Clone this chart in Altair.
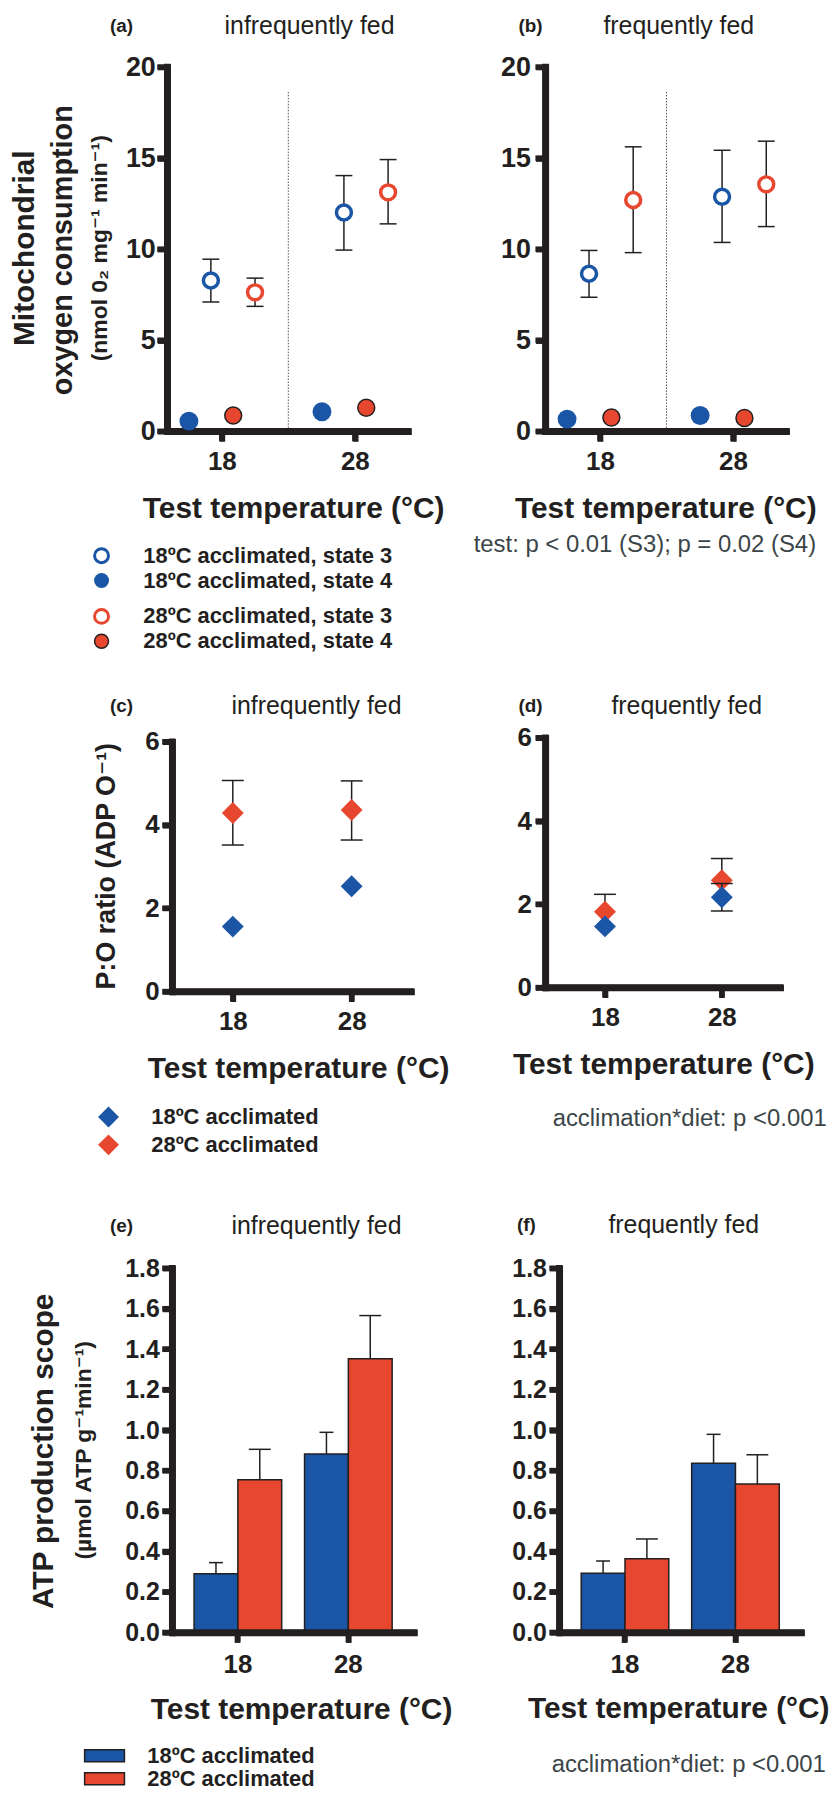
import altair as alt
import pandas as pd

BLUE = "#1b55a5"
RED = "#e8472f"
INK = "#231f20"
GREY = "#3b4548"
FONT = "Liberation Sans, Arial, Helvetica, DejaVu Sans, sans-serif"

# ---------------- data ----------------
temps = [18, 28]
divider_temp = [23]

# (a) infrequently fed – mitochondrial O2 consumption
a_s3_18 = [8.28, 12.01]
a_s3_18_lo = [7.10, 9.95]
a_s3_18_hi = [9.45, 14.04]
a_s3_28 = [7.63, 13.12]
a_s3_28_lo = [6.86, 11.39]
a_s3_28_hi = [8.41, 14.92]
a_s4_18 = [0.56, 1.07]
a_s4_28 = [0.87, 1.29]

# (b) frequently fed
b_s3_18 = [8.65, 12.88]
b_s3_18_lo = [7.36, 10.37]
b_s3_18_hi = [9.93, 15.43]
b_s3_28 = [12.70, 13.56]
b_s3_28_lo = [9.81, 11.24]
b_s3_28_hi = [15.62, 15.93]
b_s4_18 = [0.67, 0.87]
b_s4_28 = [0.76, 0.73]

# (c) P:O ratio, infrequently fed
c_18 = [1.56, 2.53]
c_18_lo = [None, None]
c_18_hi = [None, None]
c_28 = [4.29, 4.36]
c_28_lo = [3.52, 3.64]
c_28_hi = [5.07, 5.06]

# (d) P:O ratio, frequently fed
d_18 = [1.47, 2.17]
d_18_lo = [None, 1.84]
d_18_hi = [None, 2.50]
d_28 = [1.82, 2.58]
d_28_lo = [None, None]
d_28_hi = [2.24, 3.10]

# (e) ATP production scope, infrequently fed
e_18 = [0.290, 0.882]
e_18_hi = [0.345, 0.989]
e_28 = [0.754, 1.353]
e_28_hi = [0.905, 1.566]

# (f) ATP production scope, frequently fed
f_18 = [0.292, 0.836]
f_18_hi = [0.353, 0.979]
f_28 = [0.364, 0.733]
f_28_hi = [0.462, 0.878]

o2_ticks = [0, 5, 10, 15, 20]
po_ticks = [0, 2, 4, 6]
atp_ticks = [0.0, 0.2, 0.4, 0.6, 0.8, 1.0, 1.2, 1.4, 1.6, 1.8]
temp_labels = ["18", "28"]

SERIES_SHIFT = {"s4_18": -2.47, "s3_18": -0.82, "s4_28": 0.86, "s3_28": 2.50}

XT = "Test temperature (°C)"
AXW = 6.5     # axis line width
TKW = 5.5     # tick width
TKS = 10      # tick length


# ---------------- helpers ----------------
def one():
    return pd.DataFrame({"k": [0]})


def text(s, x, y, size, weight="normal", color=INK, align="center", angle=0):
    kw = dict(text=s, font=FONT, fontSize=size, fontWeight=weight, color=color,
              align=align, baseline="middle")
    if angle:
        kw["angle"] = angle
    return alt.Chart(one()).mark_text(**kw).encode(x=alt.value(x), y=alt.value(y))


def x_axis(values=None, fmt=None, pad=7, size=26, offset=0):
    kw = dict(title=None, grid=False, domain=True, domainColor=INK, domainWidth=AXW,
              domainCap="square", ticks=True, tickColor=INK, tickWidth=TKW, tickSize=TKS,
              labelFont=FONT, labelFontSize=size, labelFontWeight="bold", labelColor=INK,
              labelPadding=pad, labelAngle=0, offset=offset)
    if values is not None:
        kw["values"] = values
    if fmt:
        kw["format"] = fmt
    return alt.Axis(**kw)


def y_axis(values, fmt, pad=3, size=26, offset=0):
    return alt.Axis(title=None, grid=False, values=values, format=fmt, domain=True,
                    domainColor=INK, domainWidth=AXW, domainCap="square", ticks=True,
                    tickColor=INK, tickWidth=TKW, tickSize=TKS, labelFont=FONT,
                    labelFontSize=size, labelFontWeight="bold", labelColor=INK,
                    labelPadding=pad, offset=offset)


def dot(x, y, size, fill, stroke=None, sw=0, shape="circle"):
    kw = dict(shape=shape, filled=True, fill=fill, size=size, opacity=1)
    if stroke:
        kw["stroke"] = stroke
        kw["strokeWidth"] = sw
    else:
        kw["strokeWidth"] = 0
    return alt.Chart(one()).mark_point(**kw).encode(x=alt.value(x), y=alt.value(y))


def frame(Xf, xvals, Yf, yvals, x0, x1, ytop, ybot):
    """Heavy axis lines and ticks (drawn as rules, positioned through the scales)."""
    yline = alt.Chart(one()).mark_rule(color=INK, strokeWidth=AXW, strokeCap="square").encode(
        x=alt.value(x0), y=alt.value(ytop), y2=alt.value(ybot))
    xline = alt.Chart(one()).mark_rule(color=INK, strokeWidth=AXW, strokeCap="square").encode(
        x=alt.value(x0), x2=alt.value(x1), y=alt.value(ybot))
    yt = alt.Chart(pd.DataFrame({"tv": yvals})).mark_rule(color=INK, strokeWidth=TKW).encode(
        y=Yf("tv"), x=alt.value(x0 - TKS), x2=alt.value(x0))
    xt = alt.Chart(pd.DataFrame({"tv": xvals})).mark_rule(color=INK, strokeWidth=TKW).encode(
        x=Xf("tv"), y=alt.value(ybot), y2=alt.value(ybot + TKS))
    return [yline, xline, yt, xt]


# ---------------- panels a / b ----------------
def o2_panel(s3_18, lo18, hi18, s3_28, lo28, hi28, s4_18, s4_28, ypad):
    rows = []
    for i, t in enumerate(temps):
        rows.append(dict(temp=t, series="s3_18", mean=s3_18[i], lo=lo18[i], hi=hi18[i]))
        rows.append(dict(temp=t, series="s3_28", mean=s3_28[i], lo=lo28[i], hi=hi28[i]))
        rows.append(dict(temp=t, series="s4_18", mean=s4_18[i], lo=None, hi=None))
        rows.append(dict(temp=t, series="s4_28", mean=s4_28[i], lo=None, hi=None))
    df = pd.DataFrame(rows)
    df["xpos"] = df["temp"] + df["series"].map(SERIES_SHIFT)

    xs = alt.Scale(domain=[13.9, 32.0], range=[0, 242], nice=False, zero=False)
    xa = x_axis(temps, "d")
    ys = alt.Scale(domain=[0, 20], nice=False)
    ya = y_axis(o2_ticks, "d", pad=ypad, size=27)

    def X(f="xpos"):
        return alt.X(f + ":Q", scale=xs, axis=xa)

    def Y(f):
        return alt.Y(f + ":Q", scale=ys, axis=ya)

    base = alt.Chart(df)
    divider = alt.Chart(pd.DataFrame({"xpos": divider_temp})).mark_rule(
        color="#555", strokeWidth=1, strokeDash=[1.5, 1.5]
    ).encode(x=X(), y=alt.value(25), y2=alt.value(366))
    err = base.transform_filter("isValid(datum.lo)").mark_rule(
        color=INK, strokeWidth=1.5).encode(x=X(), y=Y("lo"), y2=alt.Y2("hi:Q"))
    caps = base.transform_fold(["lo", "hi"], as_=["end", "yv"]).transform_filter(
        "isValid(datum.yv)").mark_tick(orient="horizontal", size=17, thickness=1.5,
                                       color=INK, opacity=1).encode(x=X(), y=Y("yv"))
    s4b = base.transform_filter("datum.series == 's4_18'").mark_point(
        shape="circle", filled=True, fill=BLUE, strokeWidth=0, size=361, opacity=1
    ).encode(x=X(), y=Y("mean"))
    s4r = base.transform_filter("datum.series == 's4_28'").mark_point(
        shape="circle", filled=True, fill=RED, stroke=INK, strokeWidth=1.5, size=289, opacity=1
    ).encode(x=X(), y=Y("mean"))
    s3 = base.transform_filter("datum.series == 's3_18' || datum.series == 's3_28'").mark_point(
        shape="circle", filled=True, fill="white", strokeWidth=3.5, size=225, opacity=1
    ).encode(x=X(), y=Y("mean"),
             stroke=alt.Stroke("series:N", scale=alt.Scale(domain=["s3_18", "s3_28"],
                                                           range=[BLUE, RED]), legend=None))
    fr = frame(X, temps, Y, o2_ticks, 0, 242, 0, 366)
    return [divider] + fr + [err, caps, s4b, s4r, s3]


# ---------------- panels c / d ----------------
def po_panel(v18, lo18, hi18, v28, lo28, hi28, xrange, yrange, yoff, xoff, ypad):
    rows = []
    for i, t in enumerate(temps):
        rows.append(dict(temp=t, acc="18", mean=v18[i], lo=lo18[i], hi=hi18[i]))
        rows.append(dict(temp=t, acc="28", mean=v28[i], lo=lo28[i], hi=hi28[i]))
    df = pd.DataFrame(rows)
    xs = alt.Scale(domain=[12.9, 33.0], range=xrange, nice=False, zero=False)
    xa = x_axis(temps, "d", offset=xoff)
    ys = alt.Scale(domain=[0, 6], range=yrange, nice=False)
    ya = y_axis(po_ticks, "d", pad=ypad, size=26, offset=yoff)

    def X(f="temp"):
        return alt.X(f + ":Q", scale=xs, axis=xa)

    def Y(f):
        return alt.Y(f + ":Q", scale=ys, axis=ya)

    layers = frame(X, temps, Y, po_ticks, xrange[0], xrange[1], yrange[1], yrange[0])
    for acc, col in (("28", RED), ("18", BLUE)):
        base = alt.Chart(df).transform_filter(f"datum.acc == '{acc}'")
        layers.append(base.transform_filter("isValid(datum.hi)").mark_rule(
            color=INK, strokeWidth=1.5).encode(x=X(), y=Y("mean"), y2=alt.Y2("hi:Q")))
        layers.append(base.transform_filter("isValid(datum.lo)").mark_rule(
            color=INK, strokeWidth=1.5).encode(x=X(), y=Y("lo"), y2=alt.Y2("mean:Q")))
        layers.append(base.transform_fold(["lo", "hi"], as_=["end", "yv"]).transform_filter(
            "isValid(datum.yv)").mark_tick(orient="horizontal", size=22, thickness=1.5,
                                           color=INK, opacity=1).encode(x=X(), y=Y("yv")))
        layers.append(base.mark_point(shape="diamond", filled=True, fill=col, strokeWidth=0,
                                      size=484, opacity=1).encode(x=X(), y=Y("mean")))
    return layers


# ---------------- panels e / f ----------------
def atp_panel(v18, h18, v28, h28, xrange, yoff, ypad):
    rows = []
    for i, t in enumerate(temp_labels):
        rows.append(dict(temp=t, acc="18", mean=v18[i], hi=h18[i]))
        rows.append(dict(temp=t, acc="28", mean=v28[i], hi=h28[i]))
    df = pd.DataFrame(rows)
    xs = alt.Scale(domain=temp_labels, range=xrange, paddingInner=0.207, paddingOuter=0.198)
    xa = x_axis(None, None, size=26, pad=9)
    ys = alt.Scale(domain=[0, 1.8], nice=False)
    ya = y_axis(atp_ticks, ".1f", pad=ypad, size=25, offset=yoff)

    def X(f="temp"):
        return alt.X(f + ":N", scale=xs, axis=xa, sort=temp_labels)

    XO = alt.XOffset("acc:N", scale=alt.Scale(domain=["18", "28"]), sort=["18", "28"])

    def Y(f):
        return alt.Y(f + ":Q", scale=ys, axis=ya)

    base = alt.Chart(df)
    bars = base.mark_bar(stroke=INK, strokeWidth=1.5, opacity=1).encode(
        x=X(), xOffset=XO, y=Y("mean"),
        color=alt.Color("acc:N", scale=alt.Scale(domain=["18", "28"], range=[BLUE, RED]),
                        legend=None))
    err = base.mark_rule(color=INK, strokeWidth=1.5).encode(
        x=X(), xOffset=XO, y=Y("mean"), y2=alt.Y2("hi:Q"))
    caps = base.mark_tick(orient="horizontal", thickness=1.5, color=INK, opacity=1).encode(
        x=X(), xOffset=XO, y=Y("hi"),
        size=alt.Size("acc:N", scale=alt.Scale(domain=["18", "28"], range=[14, 22]),
                      legend=None))
    fr = frame(X, temp_labels, Y, atp_ticks, xrange[0], xrange[1], 0, 366)
    return [bars, err, caps] + fr


# ---------------- assemble ----------------
anchor = alt.Chart(one()).mark_rect(color="white", opacity=1).encode(
    x=alt.value(-160), x2=alt.value(-150), y=alt.value(-55), y2=alt.value(-45))

pa = alt.layer(
    anchor,
    *o2_panel(a_s3_18, a_s3_18_lo, a_s3_18_hi, a_s3_28, a_s3_28_lo, a_s3_28_hi,
              a_s4_18, a_s4_28, ypad=2),
    text("(a)", -46, -41, 19, "bold"),
    text("infrequently fed", 143, -41, 25),
    text("Mitochondrial", -143, 182, 30, "bold", angle=270),
    text("oxygen consumption", -105, 184, 29, "bold", angle=270),
    text("(nmol 0₂ mg⁻¹ min⁻¹)", -68, 182, 23, "bold", angle=270),
    text(XT, 127, 444, 30, "bold"),
    dot(-66, 491, 196, "white", BLUE, 3),
    dot(-66, 516, 225, BLUE),
    dot(-66, 552, 196, "white", RED, 3),
    dot(-66, 577, 196, RED, INK, 1.5),
    text("18ºC acclimated, state 3", -24, 491, 22, "bold", align="left"),
    text("18ºC acclimated, state 4", -24, 516, 22, "bold", align="left"),
    text("28ºC acclimated, state 3", -24, 552, 22, "bold", align="left"),
    text("28ºC acclimated, state 4", -24, 577, 22, "bold", align="left"),
).properties(width=248, height=366)

pb = alt.layer(
    *o2_panel(b_s3_18, b_s3_18_lo, b_s3_18_hi, b_s3_28, b_s3_28_lo, b_s3_28_hi,
              b_s4_18, b_s4_28, ypad=5),
    text("(b)", -15, -41, 19, "bold"),
    text("frequently fed", 134, -41, 25),
    text(XT, 121, 444, 30, "bold"),
    text("test: p < 0.01 (S3); p = 0.02 (S4)", 100, 480, 24, color=GREY),
).properties(width=257, height=366)

pc = alt.layer(
    *po_panel(c_18, c_18_lo, c_18_hi, c_28, c_28_lo, c_28_hi,
              xrange=[5, 245], yrange=[285, 34], yoff=-5, xoff=0, ypad=3),
    text("(c)", -46, -2, 19, "bold"),
    text("infrequently fed", 150, -2, 25),
    text("P:O ratio (ADP O⁻¹)", -60, 159, 27, "bold", angle=270),
    text(XT, 132, 363, 30, "bold"),
    dot(-59, 411, 440, BLUE, shape="diamond"),
    dot(-59, 439, 440, RED, shape="diamond"),
    text("18ºC acclimated", -16, 411, 22, "bold", align="left"),
    text("28ºC acclimated", -16, 439, 22, "bold", align="left"),
).properties(width=248, height=285)

pd_ = alt.layer(
    *po_panel(d_18, d_18_lo, d_18_hi, d_28, d_28_lo, d_28_hi,
              xrange=[0, 236], yrange=[281, 30], yoff=0, xoff=-4, ypad=4),
    text("(d)", -15, -2, 19, "bold"),
    text("frequently fed", 142, -2, 25),
    text(XT, 119, 359, 30, "bold"),
    text("acclimation*diet: p <0.001", 145, 413, 24, color=GREY),
).properties(width=257, height=285)

legend_rect_b = alt.Chart(one()).mark_rect(fill=BLUE, stroke=INK, strokeWidth=1.5).encode(
    x=alt.value(-83), x2=alt.value(-43), y=alt.value(484), y2=alt.value(496))
legend_rect_r = alt.Chart(one()).mark_rect(fill=RED, stroke=INK, strokeWidth=1.5).encode(
    x=alt.value(-83), x2=alt.value(-43), y=alt.value(507), y2=alt.value(519))

pe = alt.layer(
    *atp_panel(e_18, e_18_hi, e_28, e_28_hi, xrange=[5, 248], yoff=-5, ypad=3),
    text("(e)", -46, -42, 19, "bold"),
    text("infrequently fed", 150, -42, 25),
    text("ATP production scope", -124, 184, 30, "bold", angle=270),
    text("(µmol ATP g⁻¹min⁻¹)", -84, 183, 23, "bold", angle=270),
    text(XT, 135, 444, 30, "bold"),
    legend_rect_b, legend_rect_r,
    text("18ºC acclimated", -20, 490, 22, "bold", align="left"),
    text("28ºC acclimated", -20, 513, 22, "bold", align="left"),
).properties(width=248, height=366)

pf = alt.layer(
    *atp_panel(f_18, f_18_hi, f_28, f_28_hi, xrange=[14, 257], yoff=-14, ypad=3),
    text("(f)", -19, -43, 19, "bold"),
    text("frequently fed", 139, -43, 25),
    text(XT, 134, 443, 30, "bold"),
    text("acclimation*diet: p <0.001", 144, 499, 24, color=GREY),
).properties(width=257, height=366)

chart = alt.concat(
    pa, pb, pc, pd_, pe, pf,
    columns=2,
    spacing={"row": 278, "column": 132},
    bounds="flush",
    align="each",
).properties(padding=0, background="white").configure_view(stroke=None, fill=None)

chart.save("out.html", embed_options={"renderer": "svg", "actions": False})
